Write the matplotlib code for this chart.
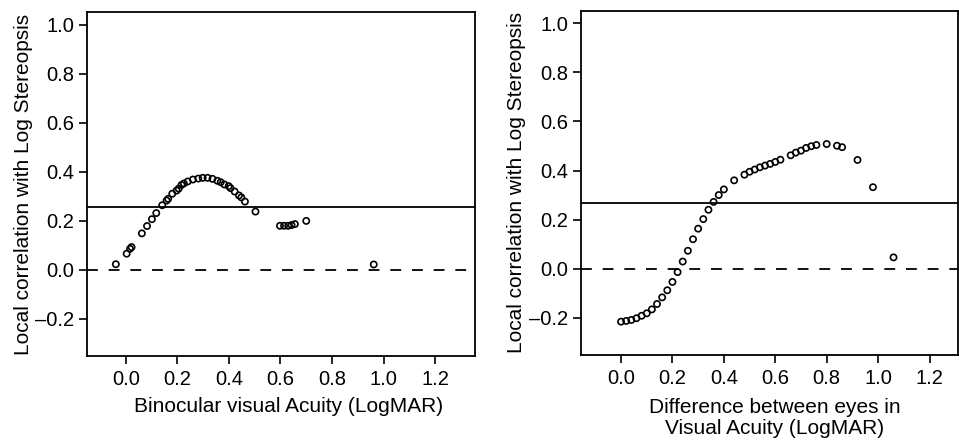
import matplotlib
matplotlib.use("Agg")
import matplotlib.pyplot as plt

plt.rcParams['font.family'] = ['Liberation Sans', 'DejaVu Sans']

# Left panel: binocular visual acuity vs local correlation
bino_x = [-0.039, 0.003, 0.016, 0.022, 0.062, 0.082, 0.101, 0.118, 0.141, 0.158,
          0.164, 0.180, 0.197, 0.205, 0.216, 0.225, 0.240, 0.260, 0.281, 0.298,
          0.317, 0.336, 0.355, 0.368, 0.382, 0.399, 0.406, 0.422, 0.439, 0.448,
          0.462, 0.503, 0.598, 0.614, 0.630, 0.643, 0.656, 0.700, 0.962]
bino_y = [0.022, 0.065, 0.085, 0.092, 0.148, 0.178, 0.206, 0.231, 0.263, 0.282,
          0.289, 0.310, 0.323, 0.331, 0.346, 0.352, 0.360, 0.368, 0.372, 0.375,
          0.375, 0.371, 0.363, 0.357, 0.348, 0.341, 0.333, 0.319, 0.303, 0.295,
          0.278, 0.237, 0.179, 0.179, 0.179, 0.182, 0.186, 0.199, 0.021]
bino_ref = 0.256

# Right panel: difference between eyes vs local correlation
diff_x = [0.00, 0.02, 0.04, 0.06, 0.08, 0.10, 0.12, 0.14, 0.16, 0.18,
          0.20, 0.22, 0.24, 0.26, 0.28, 0.30, 0.32, 0.34, 0.36, 0.38,
          0.40, 0.44, 0.48, 0.50, 0.52, 0.54, 0.56, 0.58, 0.60, 0.62,
          0.66, 0.68, 0.70, 0.72, 0.74, 0.76, 0.80, 0.84, 0.86, 0.92,
          0.98, 1.06]
diff_y = [-0.216, -0.213, -0.209, -0.202, -0.192, -0.182, -0.166, -0.144, -0.117, -0.088,
          -0.054, -0.014, 0.029, 0.073, 0.120, 0.163, 0.202, 0.240, 0.272, 0.300,
          0.323, 0.360, 0.383, 0.395, 0.404, 0.413, 0.420, 0.427, 0.435, 0.444,
          0.462, 0.473, 0.481, 0.492, 0.499, 0.504, 0.508, 0.501, 0.495, 0.443,
          0.332, 0.046]
diff_ref = 0.269

xticks = [0.0, 0.2, 0.4, 0.6, 0.8, 1.0, 1.2]
yticks = [-0.2, 0.0, 0.2, 0.4, 0.6, 0.8, 1.0]
ylabel = "Local correlation with Log Stereopsis"

fig = plt.figure(figsize=(9.59, 4.46), dpi=100)
ax1 = fig.add_axes([0.0907, 0.2018, 0.4046, 0.771])
ax2 = fig.add_axes([0.6055, 0.2034, 0.3935, 0.773])


def panel(ax, x, y, ref, xlim, xlabel, label_x, xpad):
    ax.scatter(x, y, s=20, facecolors='none', edgecolors='black', linewidths=1.2, zorder=3)
    ax.axhline(ref, color='black', lw=1.3)
    ax.axhline(0, color='black', lw=1.3, ls=(0, (6, 6)))
    ax.set_xlim(*xlim)
    ax.set_ylim(-0.353, 1.052)
    ax.set_xticks(xticks)
    ax.set_yticks(yticks)
    ax.set_xticklabels([f"{t:.1f}" for t in xticks])
    ax.set_yticklabels([f"{t:.1f}".replace("-", "\u2013") for t in yticks])
    ax.tick_params(direction='out', length=6, width=1.2, labelsize=14.5, pad=4)
    ax.tick_params(axis='y', pad=3)
    for s in ax.spines.values():
        s.set_linewidth(1.3)
    ax.set_ylabel(ylabel, fontsize=15, labelpad=2)
    ax.set_xlabel(xlabel, fontsize=15, labelpad=xpad, linespacing=1.15)
    ax.xaxis.label.set_x(label_x)


panel(ax1, bino_x, bino_y, bino_ref, (-0.151, 1.355),
      "Binocular visual Acuity (LogMAR)", 0.52, 6)
panel(ax2, diff_x, diff_y, diff_ref, (-0.157, 1.311),
      "Difference between eyes in\nVisual Acuity (LogMAR)", 0.515, 7)

fig.savefig("out.png", dpi=100)
